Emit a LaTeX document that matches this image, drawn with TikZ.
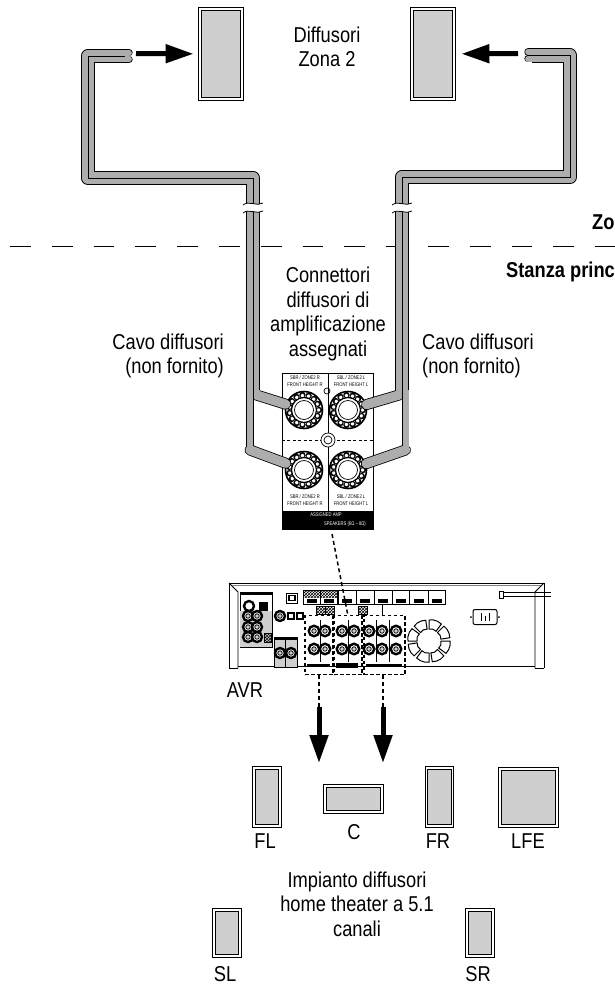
\documentclass[tikz,border=0pt]{standalone}
\usepackage{fontspec}
\setmainfont{Liberation Sans}[FakeStretch=0.85]
\newfontfamily\panelfont{Liberation Sans}[FakeStretch=0.78]
\usetikzlibrary{arrows.meta,patterns}
\definecolor{spkgray}{gray}{0.81}
\definecolor{wiregray}{gray}{0.68}

\begin{document}
\begin{tikzpicture}[x=1pt,y=-1pt]
\tikzstyle{speaker}=[draw, double=white, line width=0.9pt, double distance=1.5pt, fill=spkgray, inner sep=0pt]
\tikzstyle{label}=[font=\fontsize{21.5}{24.5}\selectfont, align=center, inner sep=0pt]
\tikzstyle{boldlabel}=[font=\fontsize{21.5}{24.5}\selectfont\bfseries, anchor=base west, inner sep=0pt]
\tikzstyle{paneltext}=[font=\panelfont\fontsize{5.3}{7.4}\selectfont, align=center, inner sep=0pt]
\tikzstyle{bigarrow}=[line width=5pt, -{Triangle[length=28pt,width=18pt]}]
\tikzstyle{casing}=[draw=black, line join=round]
\tikzstyle{core}=[draw=wiregray, line join=round]
\tikzstyle{link}=[line width=1.5pt, dash pattern=on 4pt off 3pt]
\tikzstyle{knob}=[draw, circle, line width=1.6pt, fill=white, minimum size=37pt, inner sep=0pt]
\tikzstyle{rca}=[draw, circle, line width=2.4pt, fill=white, minimum size=10pt, inner sep=0pt]
\tikzstyle{rcain}=[draw, circle, line width=0.8pt, fill=spkgray, minimum size=4.5pt, inner sep=0pt]
\tikzstyle{hdmi}=[draw, line width=0.5pt, fill=white, minimum height=14pt, inner sep=0pt]
\tikzstyle{termgroup}=[draw, line width=1.9pt, dash pattern=on 3.5pt off 2.5pt, inner sep=0pt]

\useasboundingbox (0,0) rectangle (615,990);

% room border
\draw[line width=1pt, dash pattern=on 20.8pt off 21pt] (10,246) -- (615,246);

% speakers
\draw (221,54) node[speaker, minimum width=42pt, minimum height=90pt] (zoneL) {};
\draw (433,54) node[speaker, minimum width=42pt, minimum height=90pt] (zoneR) {};
\draw (267,797) node[speaker, minimum width=26pt, minimum height=58pt] (fl) {};
\draw (353.5,799) node[speaker, minimum width=57pt, minimum height=26pt] (c) {};
\draw (439.5,797) node[speaker, minimum width=26pt, minimum height=58pt] (fr) {};
\draw (528.5,797.5) node[speaker, minimum width=57pt, minimum height=57pt] (lfe) {};
\draw (227,933) node[speaker, minimum width=26pt, minimum height=46pt] (sl) {};
\draw (480,933) node[speaker, minimum width=26pt, minimum height=46pt] (sr) {};

% connector panel
\draw (327.5,451) node[draw, line width=0.9pt, fill=white, minimum width=91pt, minimum height=156pt, inner sep=0pt] (panel) {};
\draw (327.5,520) node[fill=black, text=white, minimum width=91pt, minimum height=18pt, inner sep=0pt] (band) {};
\draw[line width=0.8pt] (panel.north -| 328,0) -- (band.north -| 328,0);
\draw[line width=0.7pt, dash pattern=on 3pt off 2.5pt] (panel.west |- 0,440) -- (panel.east |- 0,440);
\draw (328,440) node[draw, circle, fill=white, line width=0.7pt, minimum size=14pt, inner sep=0pt] (gnd) {};
\draw (328,440) node[draw, circle, line width=0.7pt, minimum size=8pt, inner sep=0pt] (gndin) {};
\draw (327,391) node[draw, circle, line width=0.7pt, minimum size=6pt, inner sep=0pt] (hole) {};
\draw (305,381) node[paneltext] (txtA) {SBR / ZONE2 R\\FRONT HEIGHT R};
\draw (351,381) node[paneltext] (txtB) {SBL / ZONE2 L\\FRONT HEIGHT L};
\draw (305,500) node[paneltext] (txtC) {SBR / ZONE2 R\\FRONT HEIGHT R};
\draw (351,500) node[paneltext] (txtD) {SBL / ZONE2 L\\FRONT HEIGHT L};
\draw (326,515) node[paneltext, text=white] (txtE) {ASSIGNED AMP};
\draw (345,524) node[paneltext, text=white] (txtF) {SPEAKERS (6Ω \textasciitilde{} 8Ω)};

\foreach \n/\x/\y in {kA/304/410, kB/348/410, kC/304/470, kD/348/470} {
  \draw (\x,\y) node[knob] (\n) {};
  \foreach \a in {0,24,...,336}
    \fill[black] (\x,\y) ++(\a:15) circle[radius=3.2pt];
  \foreach \a in {0,24,...,336}
    \draw[fill=white, line width=0.3pt] (\x,\y) ++(\a:14.5) circle[radius=2pt];
  \draw[fill=white, line width=1.2pt] (\x,\y) circle[radius=12.5pt];
  \draw[fill=white, line width=0.7pt] (\x,\y) circle[radius=9.5pt];
}

% cables
\coordinate (plugL) at (125,56);
\coordinate (cornerLa) at (88,56);
\coordinate (cornerLb) at (88,178);
\coordinate (cornerLc) at (253,178);
\coordinate (splitL) at (253,390);
\coordinate (plugR) at (532,55.5);
\coordinate (cornerRa) at (570,55.5);
\coordinate (cornerRb) at (570,177);
\coordinate (cornerRc) at (402,177);
\coordinate (splitR) at (402,390);

\foreach \xa/\xb/\ya in {125/129/52.7, 125/129/59.3, 532/528/52.2, 532/528/58.8} {
  \draw[casing, line width=7.4pt, line cap=round] (\xa,\ya) -- (\xb,\ya);
  \draw[core, line width=5.8pt, line cap=round] (\xa,\ya) -- (\xb,\ya);
}
\foreach \s/\k/\xs/\yb in {A/kA/256.5/395, C/kC/250/450, B/kB/399/395, D/kD/405.5/450} {
  \coordinate (top\s) at (\xs,388);
  \coordinate (bend\s) at (\xs,\yb);
  \draw[casing, line width=7.6pt] (top\s) -- (bend\s);
  \draw[casing, line width=11pt, line cap=round] (bend\s) -- (\k);
  \draw[core, line width=6pt] (top\s) -- (bend\s);
  \draw[core, line width=9.4pt, line cap=round] (bend\s) -- (\k);
}
\draw[casing, line width=14.2pt] (plugL) -- (cornerLa) -- (cornerLb) -- (cornerLc) -- (splitL);
\draw[core, line width=12.4pt] (plugL) -- (cornerLa) -- (cornerLb) -- (cornerLc) -- (splitL);
\draw[line width=0.8pt] (plugL) -- (cornerLa) -- (cornerLb) -- (cornerLc) -- (splitL);
\draw[casing, line width=14.2pt] (plugR) -- (cornerRa) -- (cornerRb) -- (cornerRc) -- (splitR);
\draw[core, line width=12.4pt] (plugR) -- (cornerRa) -- (cornerRb) -- (cornerRc) -- (splitR);
\draw[line width=0.8pt] (plugR) -- (cornerRa) -- (cornerRb) -- (cornerRc) -- (splitR);

% cable breaks
\foreach \x in {253,402} {
  \fill[white] (\x-10,205) .. controls (\x-4,200) and (\x+4,207) .. (\x+10,203)
    -- (\x+10,211) .. controls (\x+4,215) and (\x-4,208) .. (\x-10,213) -- cycle;
  \draw[line width=0.8pt] (\x-10,205) .. controls (\x-4,200) and (\x+4,207) .. (\x+10,203);
  \draw[line width=0.8pt] (\x-10,213) .. controls (\x-4,208) and (\x+4,215) .. (\x+10,211);
}

% arrows to zone 2
\coordinate (tipL) at (129,53.5);
\coordinate (tipR) at (528,53.5);
\draw[bigarrow, shorten <=7pt, shorten >=6pt] (tipL) -- (zoneL);
\draw[bigarrow, shorten <=10pt, shorten >=7pt] (tipR) -- (zoneR);

% receiver
\draw (386.5,625.5) node[minimum width=315pt, minimum height=85pt, inner sep=0pt] (avr) {};
\draw[line width=1pt] (229,668) -- (229,583) -- (544,583) -- (544,668);
\draw[line width=0.9pt] (229,583) -- (238,592) -- (238,668);
\draw[line width=0.9pt] (544,583) -- (535,592) -- (535,668);
\draw[line width=0.6pt] (229,668) -- (238,668) (535,668) -- (544,668);
\draw[line width=0.6pt] (238,666) -- (535,666);
\draw[line width=0.6pt, gray] (232,585.5) -- (541,585.5);
% power cord
\draw[line width=0.7pt, fill=white] (499,591) rectangle (503,598);
\draw[line width=0.7pt] (503,592) -- (551,592) (503,596.5) -- (551,596.5);

% left jack block
\draw[line width=1pt, fill=white] (240,592) rectangle (272,647);
\fill (240,592) rectangle (272,595);
\fill[spkgray] (240,611) rectangle (272,647);
\draw (249,606) node[rca] (coax) {};
\draw (263,606) node[fill=black, minimum width=9pt, minimum height=9pt, inner sep=0pt] (optical) {};
\foreach \y in {616,627,637} {
  \draw (248,\y) node[rca] (ra\y) {} node[rcain] (rb\y) {};
  \draw (257,\y) node[rca] (rc\y) {} node[rcain] (rd\y) {};
}
\draw[line width=0.4pt, pattern=crosshatch] (264,633) rectangle (271,642);
% network and small jacks
\draw (292,598) node[draw, line width=0.5pt, minimum width=11pt, minimum height=10pt, inner sep=0pt] (lanbox) {};
\draw (292,598) node[draw, line width=1.8pt, minimum width=6pt, minimum height=5pt, inner sep=0pt] (lan) {};
\draw (280,616) node[rca] (jackA) {} node[rcain] (jackB) {};
\foreach \x in {291,300} \draw (\x,616) node[draw, line width=1.2pt, minimum width=6pt, minimum height=6pt, inner sep=0pt] (opt\x) {};
% pre-out block
\draw[line width=0.8pt, fill=spkgray] (274,637) rectangle (297,667);
\fill (274,637) rectangle (297,640);
\draw[line width=0.5pt] (285.5,637) -- (285.5,667);
\draw (280,653) node[rca] (preA) {} node[rcain] (preB) {};
\draw (291,653) node[rca] (preC) {} node[rcain] (preD) {};

% hdmi row
\foreach \x/\w in {312/18,329/17,347/18,365/18,383/18,400.5/17,418.5/19,436.5/17} {
  \draw (\x,597) node[hdmi, minimum width=\w pt] (hd\x) {};
  \draw (\x,601) node[fill=black, minimum width=10pt, minimum height=3.5pt, inner sep=0pt] (hp\x) {};
}
\foreach \x/\w in {312/18,329/17} \fill[pattern=crosshatch] (\x-\w/2,590) rectangle (\x+\w/2,597);
\foreach \x in {321,330,363} \draw (\x,610) node[draw, line width=0.4pt, pattern=crosshatch, minimum width=9pt, minimum height=8pt, inner sep=0pt] (st\x) {};
\draw[line width=0.6pt] (382,604) -- (382,616);

% speaker terminals
\foreach \x in {320,348,376,389} \draw[line width=0.4pt] (\x,620) -- (\x,662);
\fill (307,663.5) rectangle (330,667);
\fill (336,663) rectangle (358,668);
\fill (366,663.5) rectangle (402,667);
\foreach \x in {314,325,342,354,369,382,396}
  \foreach \y in {631,649}
    \draw (\x,\y) node[rca, minimum size=10.5pt] (ta\x\y) {} node[rcain] (tb\x\y) {};
\draw (319,645) node[termgroup, minimum width=28pt, minimum height=59pt] (groupA) {};
\draw (348,645) node[termgroup, minimum width=28pt, minimum height=59pt] (groupB) {};
\draw (384.5,645) node[termgroup, minimum width=41pt, minimum height=59pt] (groupC) {};

% fan
\begin{scope}[shift={(429,641)}]
\foreach \a in {0,45,...,315}
  \draw[line width=1pt, fill=white] (\a:21) -- (\a+12:21.5) -- (\a+24:21.5) -- (\a+36:21) -- (\a+36:12) -- (\a+18:12.5) -- (\a:12) -- cycle;
\end{scope}

% power inlet
\draw (485,617) node[draw, line width=1pt, rounded corners=2pt, minimum width=24pt, minimum height=15pt, inner sep=0pt] (inlet) {};
\draw[line width=1pt] (481,613) -- (481,621) (489,613) -- (489,621) (485,616) -- (485,621);
\fill (471,617) circle[radius=1pt] (499,617) circle[radius=1pt];

% links
\coordinate (linkTop) at (332,534);
\coordinate (linkEnd) at (348,616);
\coordinate (arrowA) at (319,707);
\coordinate (arrowB) at (383,707);
\coordinate (tipA) at (319,763);
\coordinate (tipB) at (383,763);
\draw[link] (linkTop) -- (linkEnd);
\draw[link] (groupA.south -| arrowA) -- (arrowA);
\draw[link] (groupC.south -| arrowB) -- (arrowB);
\draw[bigarrow] (arrowA) -- (tipA);
\draw[bigarrow] (arrowB) -- (tipB);

% texts
\draw (327,47) node[label] (lblZone) {Diffusori\\Zona 2};
\draw (592,229) node[boldlabel] (lblZo) {Zo};
\draw (506,277) node[boldlabel] (lblMain) {Stanza princ};
\draw (328,314) node[label] (lblAssign) {Connettori\\diffusori di\\amplificazione\\assegnati};
\draw (224,356) node[label, anchor=east, align=right] (lblCableL) {Cavo diffusori\\(non fornito)};
\draw (422,356) node[label, anchor=west, align=left] (lblCableR) {Cavo diffusori\\(non fornito)};
\draw (245,697) node[label, anchor=base] (lblAvr) {AVR};
\draw (265,848) node[label, anchor=base] (lblFl) {FL};
\draw (354,839) node[label, anchor=base] (lblC) {C};
\draw (438,848) node[label, anchor=base] (lblFr) {FR};
\draw (528,848) node[label, anchor=base] (lblLfe) {LFE};
\draw (357,904) node[label] (lblSystem) {Impianto diffusori\\home theater a 5.1\\canali};
\draw (225,981) node[label, anchor=base] (lblSl) {SL};
\draw (478,981) node[label, anchor=base] (lblSr) {SR};
\end{tikzpicture}
\end{document}
